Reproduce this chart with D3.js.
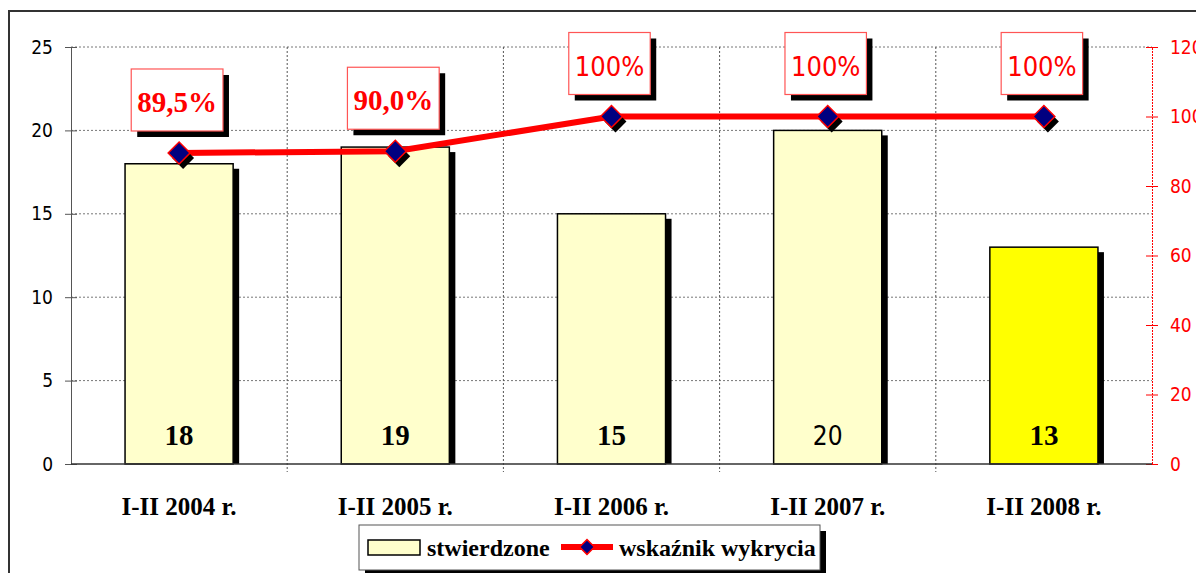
<!DOCTYPE html>
<html>
<head>
<meta charset="utf-8">
<script src="https://cdn.jsdelivr.net/npm/d3@7/dist/d3.min.js"></script>
<style>
  body { margin: 0; background: #fff; }
  svg { display: block; }
</style>
</head>
<body>
<div id="chart"></div>
<script>
const categories = ['I-II 2004 r.', 'I-II 2005 r.', 'I-II 2006 r.', 'I-II 2007 r.', 'I-II 2008 r.'];
const stwierdzone = [18, 19, 15, 20, 13];
const wskaznik = [89.5, 90.0, 100, 100, 100];
const wskaznikLabels = ['89,5%', '90,0%', '100%', '100%', '100%'];
const leftTicks = [0, 5, 10, 15, 20, 25];
const rightTicks = [0, 20, 40, 60, 80, 100, 120];

const width = 1196;
const height = 573;
const SERIF = "'Liberation Serif', 'Times New Roman', serif";
const SANS = "'DejaVu Sans', Verdana, sans-serif";
// the original renders these few labels in a Tahoma-like face
const sansLabels = new Set(['20', '100%']);
const plot = { left: 71, right: 1152, top: 47, bottom: 464 };
const SHADOW = 6;

const svg = d3.select('#chart')
  .append('svg')
  .attr('width', width)
  .attr('height', height);

// outer frame (runs off the picture on right and bottom)
svg.append('rect')
  .attr('x', 9).attr('y', 11)
  .attr('width', 1210).attr('height', 620)
  .attr('fill', 'none')
  .attr('stroke', '#333')
  .attr('stroke-width', 2);

const x = d3.scaleBand()
  .domain(categories)
  .range([plot.left, plot.right])
  .paddingInner(0.5)
  .paddingOuter(0.25);

const y = d3.scaleLinear().domain([0, 25]).range([plot.bottom, plot.top]);
const y2 = d3.scaleLinear().domain([0, 120]).range([plot.bottom, plot.top]);

// grid
svg.append('g')
  .selectAll('line')
  .data(leftTicks.filter((d) => d > 0))
  .enter().append('line')
    .attr('x1', plot.left).attr('x2', plot.right)
    .attr('y1', (d) => y(d)).attr('y2', (d) => y(d))
    .attr('stroke', '#777')
    .attr('stroke-dasharray', '2,2');

const boundaries = categories.slice(1).map((c) => x(c) - x.step() * x.paddingInner() / 2);
svg.append('g')
  .selectAll('line')
  .data(boundaries)
  .enter().append('line')
    .attr('x1', (d) => d).attr('x2', (d) => d)
    .attr('y1', plot.top).attr('y2', plot.bottom + 8)
    .attr('stroke', '#555')
    .attr('stroke-dasharray', '2,2');

// left axis
const leftAxis = svg.append('g')
  .attr('transform', `translate(${plot.left},0)`)
  .call(d3.axisLeft(y).tickValues(leftTicks).tickSize(6).tickPadding(12));
leftAxis.select('.domain').attr('stroke', '#555');
leftAxis.selectAll('.tick line').attr('x1', 6).attr('stroke', '#555');
leftAxis.selectAll('.tick text')
  .attr('font-family', SANS).attr('font-stretch', 'condensed')
  .attr('font-size', 19).attr('fill', '#000');

// right axis
const rightAxis = svg.append('g')
  .attr('transform', `translate(${plot.right},0)`)
  .call(d3.axisRight(y2).tickValues(rightTicks).tickSize(6).tickPadding(12));
rightAxis.select('.domain').attr('stroke', '#f00').attr('stroke-dasharray', '2,1');
rightAxis.selectAll('.tick line').attr('x1', -6).attr('stroke', '#f00');
rightAxis.selectAll('.tick text')
  .attr('font-family', SANS).attr('font-stretch', 'condensed')
  .attr('font-size', 19).attr('fill', '#f00');

// bars
const bar = svg.append('g')
  .selectAll('g')
  .data(stwierdzone)
  .enter().append('g');

bar.append('rect')
  .attr('x', (d, i) => x(categories[i]) + SHADOW)
  .attr('y', (d) => y(d) + 5)
  .attr('width', x.bandwidth())
  .attr('height', (d) => plot.bottom - y(d) - 5)
  .attr('fill', '#000');

bar.append('rect')
  .attr('x', (d, i) => x(categories[i]))
  .attr('y', (d) => y(d))
  .attr('width', x.bandwidth())
  .attr('height', (d) => plot.bottom - y(d))
  .attr('fill', (d, i) => i === categories.length - 1 ? '#ffff00' : '#ffffcc')
  .attr('stroke', '#000')
  .attr('stroke-width', 1.5);

bar.append('text')
  .attr('x', (d, i) => x(categories[i]) + x.bandwidth() / 2)
  .attr('y', plot.bottom - 19)
  .attr('text-anchor', 'middle')
  .attr('font-family', (d) => sansLabels.has(String(d)) ? SANS : SERIF)
  .attr('font-stretch', 'condensed')
  .attr('font-weight', (d) => sansLabels.has(String(d)) ? 'normal' : 'bold')
  .attr('font-size', (d) => sansLabels.has(String(d)) ? 26 : 29)
  .text((d) => d);

// bottom axis line
svg.append('line')
  .attr('x1', plot.left).attr('x2', plot.right)
  .attr('y1', plot.bottom).attr('y2', plot.bottom)
  .attr('stroke', '#333').attr('stroke-width', 1.5);

// category labels
svg.append('g')
  .selectAll('text')
  .data(categories)
  .enter().append('text')
    .attr('x', (d) => x(d) + x.bandwidth() / 2)
    .attr('y', 515)
    .attr('text-anchor', 'middle')
    .attr('font-family', SERIF)
    .attr('font-weight', 'bold')
    .attr('font-size', 25)
    .text((d) => d);

// line series
const cx = (i) => x(categories[i]) + x.bandwidth() / 2;
const line = d3.line()
  .x((d, i) => cx(i))
  .y((d) => y2(d));

svg.append('path')
  .datum(wskaznik)
  .attr('d', line)
  .attr('fill', 'none')
  .attr('stroke', '#f00')
  .attr('stroke-width', 6);

const diamond = d3.symbol().type(d3.symbolSquare).size(240);
const marker = svg.append('g')
  .selectAll('g')
  .data(wskaznik)
  .enter().append('g')
    .attr('transform', (d, i) => `translate(${cx(i)},${y2(d)})`);

marker.append('path')
  .attr('d', diamond)
  .attr('transform', 'translate(4,5) rotate(45)')
  .attr('fill', '#000');

marker.append('path')
  .attr('d', diamond)
  .attr('transform', 'rotate(45)')
  .attr('fill', '#000080')
  .attr('stroke', '#f00')
  .attr('stroke-width', 1.5);

// percentage callouts
const callout = svg.append('g')
  .selectAll('g')
  .data(wskaznik)
  .enter().append('g')
    .attr('transform', (d, i) => `translate(${cx(i) - 2},${y2(d) - 22})`);

const calloutText = callout.append('text')
  .attr('y', -19)
  .attr('text-anchor', 'middle')
  .attr('fill', '#f00')
  .attr('font-family', (d, i) => sansLabels.has(wskaznikLabels[i]) ? SANS : SERIF)
  .attr('font-stretch', 'condensed')
  .attr('font-weight', (d, i) => sansLabels.has(wskaznikLabels[i]) ? 'normal' : 'bold')
  .attr('font-size', (d, i) => sansLabels.has(wskaznikLabels[i]) ? 27 : 29)
  .text((d, i) => wskaznikLabels[i]);

calloutText.each(function () {
  const w = this.getComputedTextLength() + 12;
  const g = d3.select(this.parentNode);
  g.insert('rect', 'text')
    .attr('x', -w / 2 + SHADOW).attr('y', -62 + SHADOW)
    .attr('width', w).attr('height', 62)
    .attr('fill', '#000');
  g.insert('rect', 'text')
    .attr('x', -w / 2).attr('y', -62)
    .attr('width', w).attr('height', 62)
    .attr('fill', '#fff')
    .attr('stroke', '#f55')
    .attr('stroke-width', 1.2);
});

// legend
const legend = svg.append('g').attr('transform', 'translate(359,525)');
legend.append('rect')
  .attr('x', SHADOW).attr('y', SHADOW)
  .attr('width', 461).attr('height', 45)
  .attr('fill', '#000');
legend.append('rect')
  .attr('width', 461).attr('height', 45)
  .attr('fill', '#fff')
  .attr('stroke', '#555');

legend.append('rect')
  .attr('x', 9).attr('y', 15)
  .attr('width', 52).attr('height', 15)
  .attr('fill', '#ffffcc')
  .attr('stroke', '#000')
  .attr('stroke-width', 1.5);
legend.append('text')
  .attr('x', 68).attr('y', 31)
  .attr('font-family', SERIF).attr('font-weight', 'bold').attr('font-size', 24)
  .text('stwierdzone');

legend.append('line')
  .attr('x1', 202).attr('x2', 254)
  .attr('y1', 22).attr('y2', 22)
  .attr('stroke', '#f00').attr('stroke-width', 6);
legend.append('path')
  .attr('d', d3.symbol().type(d3.symbolSquare).size(110))
  .attr('transform', 'translate(228,22) rotate(45)')
  .attr('fill', '#000080')
  .attr('stroke', '#f00')
  .attr('stroke-width', 1.5);
legend.append('text')
  .attr('x', 260).attr('y', 31)
  .attr('font-family', SERIF).attr('font-weight', 'bold').attr('font-size', 24)
  .text('wskaźnik wykrycia');
</script>
</body>
</html>
